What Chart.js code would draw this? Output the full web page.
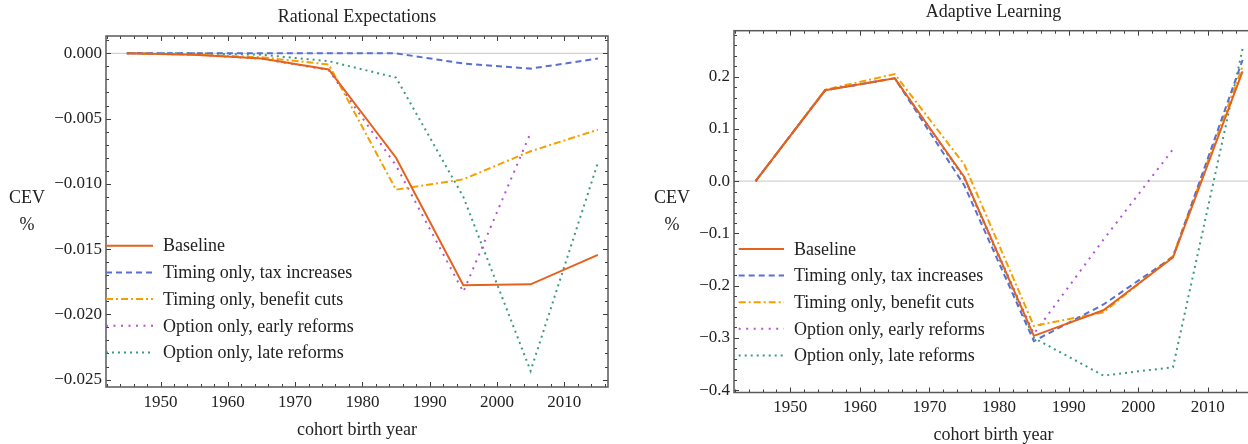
<!DOCTYPE html>
<html>
<head>
<meta charset="utf-8">
<script src="https://cdn.jsdelivr.net/npm/chart.js@4.4.0/dist/chart.umd.min.js"></script>
<style>
  html, body { margin: 0; padding: 0; background: #fff; overflow: hidden; width: 1248px; height: 444px; }
  .panel { position: absolute; top: 0; }
  #left { left: 0; }
  #right { left: 620px; }
</style>
</head>
<body>
<div class="panel" id="left"><canvas id="reChart" width="620" height="444"></canvas></div>
<div class="panel" id="right"><canvas id="alChart" width="640" height="446"></canvas></div>
<script>
// ── DATI ─────────────────────────────────────
const cohorts = [1945, 1955, 1965, 1975, 1985, 1995, 2005, 2015];
const seriesNames = [
  'Baseline',
  'Timing only, tax increases',
  'Timing only, benefit cuts',
  'Option only, early reforms',
  'Option only, late reforms'
];

// Rational Expectations (CEV, %)
const reBaseline    = [0, -0.0001, -0.0004, -0.00123, -0.0080, -0.01777, -0.0177, -0.01545];
const reTaxTiming   = [0, 0, 0, 0, 0, -0.00078, -0.00117, -0.0004];
const reBenTiming   = [0, -0.0001, -0.0003, -0.00085, -0.01045, -0.00965, -0.0075, -0.00585];
const reEarlyOption = [0, -0.0001, -0.0004, -0.00128, -0.0086, -0.01828, -0.00608];
const reLateOption  = [0, 0, -0.0001, -0.0006, -0.00186, -0.0110, -0.02434, -0.00838];

// Adaptive Learning (CEV, %)
const alBaseline    = [0, 0.174, 0.197, 0.008, -0.296, -0.247, -0.146, 0.210];
const alTaxTiming   = [0, 0.174, 0.197, -0.008, -0.306, -0.236, -0.145, 0.232];
const alBenTiming   = [0, 0.175, 0.205, 0.032, -0.277, -0.251, -0.143, 0.220];
const alEarlyOption = [0, 0.174, 0.197, 0.006, -0.292, -0.112, 0.061];
const alLateOption  = [0, 0.174, 0.197, 0.006, -0.300, -0.372, -0.356, 0.253];

// Assi
const xRange = [1941.9, 2016.5];
const xTicks = [1950, 1960, 1970, 1980, 1990, 2000, 2010];
const xTickLabels = ['1950', '1960', '1970', '1980', '1990', '2000', '2010'];

const reYRange = [-0.02557, 0.00133];
const reYTicks = [0, -0.005, -0.010, -0.015, -0.020, -0.025];
const reYTickLabels = ['0.000', '\u22120.005', '\u22120.010', '\u22120.015', '\u22120.020', '\u22120.025'];

const alYRange = [-0.4044, 0.288];
const alYTicks = [0.2, 0.1, 0, -0.1, -0.2, -0.3, -0.4];
const alYTickLabels = ['0.2', '0.1', '0.0', '\u22120.1', '\u22120.2', '\u22120.3', '\u22120.4'];

// Stili linee
const LINE_STYLES = [
  { color: '#e5621c', dash: [] },
  { color: '#5a6fd2', dash: [6, 4] },
  { color: '#f5a000', dash: [7, 3, 2, 3] },
  { color: '#b452d4', dash: [2, 5.5] },
  { color: '#3c9a7e', dash: [2, 4] }
];

const SERIF = '"Liberation Serif", "Times New Roman", serif';
const TEXT = '#222';

// ── UTILITY ──────────────────────────────────

function minorValues(from, to, step) {
  const out = [];
  for (let v = from; v <= to + step / 2; v += step) out.push(+v.toFixed(6));
  return out;
}

function buildDatasets(values) {
  return values.map((vals, i) => ({
    label: seriesNames[i],
    data: vals.map((v, k) => ({ x: cohorts[k], y: v })),
    borderColor: LINE_STYLES[i].color,
    borderDash: LINE_STYLES[i].dash,
    borderWidth: 2,
    borderCapStyle: 'butt',
    pointRadius: 0,
    tension: 0,
    fill: false
  }));
}

// ── PLUGIN ───────────────────────────────────

// linea dello zero + cornice con tacche sui quattro lati
const frameTicks = {
  id: 'frameTicks',
  beforeDatasetsDraw(chart) {
    const { ctx, chartArea: a, scales: { y } } = chart;
    const y0 = y.getPixelForValue(0);
    ctx.save();
    ctx.strokeStyle = '#d2d2d2';
    ctx.lineWidth = 1.3;
    ctx.beginPath();
    ctx.moveTo(a.left, y0);
    ctx.lineTo(a.right, y0);
    ctx.stroke();
    ctx.restore();
  },
  afterDatasetsDraw(chart, args, opts) {
    const { ctx, chartArea: a, scales: { x, y } } = chart;
    ctx.save();
    ctx.strokeStyle = '#3c3c3c';
    ctx.lineWidth = 1;
    ctx.beginPath();
    const xt = (v, len) => {
      const px = Math.round(x.getPixelForValue(v)) + 0.5;
      ctx.moveTo(px, a.bottom); ctx.lineTo(px, a.bottom - len);
      ctx.moveTo(px, a.top); ctx.lineTo(px, a.top + len);
    };
    const yt = (v, len) => {
      const py = Math.round(y.getPixelForValue(v)) + 0.5;
      ctx.moveTo(a.left, py); ctx.lineTo(a.left + len, py);
      ctx.moveTo(a.right, py); ctx.lineTo(a.right - len, py);
    };
    opts.xMinor.forEach(v => xt(v, 3));
    xTicks.forEach(v => xt(v, 5));
    opts.yMinor.forEach(v => yt(v, 3));
    opts.yMajor.forEach(v => yt(v, 5));
    ctx.stroke();
    ctx.strokeStyle = '#5a5a5a';
    ctx.lineWidth = 1.5;
    ctx.strokeRect(a.left, a.top, a.right - a.left, a.bottom - a.top);
    ctx.restore();
  }
};

// legenda dentro l'area del grafico
const insetLegend = {
  id: 'insetLegend',
  afterDraw(chart, args, opts) {
    const { ctx, chartArea: a } = chart;
    ctx.save();
    ctx.font = '18px ' + SERIF;
    ctx.textBaseline = 'middle';
    ctx.textAlign = 'left';
    chart.data.datasets.forEach((ds, i) => {
      const yy = a.top + opts.top + i * opts.rowGap;
      ctx.strokeStyle = ds.borderColor;
      ctx.lineWidth = ds.borderWidth;
      ctx.setLineDash(ds.borderDash);
      ctx.beginPath();
      ctx.moveTo(a.left + opts.x0, yy);
      ctx.lineTo(a.left + opts.x1, yy);
      ctx.stroke();
      ctx.setLineDash([]);
      ctx.fillStyle = TEXT;
      ctx.fillText(ds.label, a.left + opts.textX, yy + 1);
    });
    ctx.restore();
  }
};

// etichetta "CEV / %" orizzontale a sinistra
const sideLabel = {
  id: 'sideLabel',
  afterDraw(chart, args, opts) {
    const { ctx, chartArea: a } = chart;
    const mid = (a.top + a.bottom) / 2;
    ctx.save();
    ctx.font = '18px ' + SERIF;
    ctx.fillStyle = TEXT;
    ctx.textAlign = 'center';
    ctx.textBaseline = 'middle';
    ctx.fillText('CEV', opts.x, mid - 13);
    ctx.fillText('%', opts.x, mid + 14);
    ctx.restore();
  }
};

// ── GRAFICI ──────────────────────────────────

function makeChart(canvasId, cfg) {
  return new Chart(document.getElementById(canvasId), {
    type: 'line',
    data: { datasets: buildDatasets(cfg.values) },
    plugins: [frameTicks, insetLegend, sideLabel],
    options: {
      responsive: false,
      animation: false,
      devicePixelRatio: 1,
      layout: { padding: { left: 0, right: cfg.padRight, top: 0, bottom: 0 } },
      plugins: {
        legend: { display: false },
        tooltip: { enabled: false },
        title: {
          display: true,
          text: cfg.title,
          fullSize: false,
          color: TEXT,
          font: { family: SERIF, size: 18, weight: 'normal' },
          padding: cfg.titlePad
        },
        frameTicks: {
          xMinor: minorValues(1942, 2016, 2),
          yMinor: minorValues(cfg.yMinorFrom, cfg.yMinorTo, cfg.yMinorStep),
          yMajor: cfg.yTicks
        },
        insetLegend: cfg.legend,
        sideLabel: { x: cfg.sideX }
      },
      scales: {
        x: {
          type: 'linear',
          min: xRange[0],
          max: xRange[1],
          grid: { display: false, drawTicks: false },
          border: { display: false },
          afterBuildTicks: s => { s.ticks = xTicks.map(v => ({ value: v })); },
          afterFit: s => { s.height = cfg.xHeight; },
          ticks: {
            color: TEXT,
            padding: 5,
            maxRotation: 0,
            autoSkip: false,
            font: { family: SERIF, size: 17 },
            callback: (v, i) => xTickLabels[i]
          },
          title: {
            display: true,
            text: 'cohort birth year',
            color: TEXT,
            font: { family: SERIF, size: 18 },
            padding: { top: 0, bottom: cfg.xTitleBottom }
          }
        },
        y: {
          type: 'linear',
          min: cfg.yRange[0],
          max: cfg.yRange[1],
          grid: { display: false, drawTicks: false },
          border: { display: false },
          afterBuildTicks: s => { s.ticks = cfg.yTicks.map(v => ({ value: v })); },
          afterFit: s => { s.width = cfg.yWidth; },
          ticks: {
            color: TEXT,
            padding: 4,
            autoSkip: false,
            font: { family: SERIF, size: 17 },
            callback: (v, i) => cfg.yTickLabels[i]
          }
        }
      }
    }
  });
}

makeChart('reChart', {
  title: 'Rational Expectations',
  values: [reBaseline, reTaxTiming, reBenTiming, reEarlyOption, reLateOption],
  yRange: reYRange,
  yTicks: reYTicks,
  yTickLabels: reYTickLabels,
  yMinorFrom: -0.025, yMinorTo: 0.001, yMinorStep: 0.001,
  yWidth: 106,
  padRight: 12,
  titlePad: { top: 6, bottom: 8.4 },
  xHeight: 57,
  xTitleBottom: 3,
  sideX: 27,
  legend: { top: 209.7, rowGap: 26.7, x0: 0, x1: 47, textX: 57 }
});

makeChart('alChart', {
  title: 'Adaptive Learning',
  values: [alBaseline, alTaxTiming, alBenTiming, alEarlyOption, alLateOption],
  yRange: alYRange,
  yTicks: alYTicks,
  yTickLabels: alYTickLabels,
  yMinorFrom: -0.4, yMinorTo: 0.28, yMinorStep: 0.02,
  yWidth: 114,
  padRight: 7,
  titlePad: { top: 1.2, bottom: 7.9 },
  xHeight: 53.5,
  xTitleBottom: 0,
  sideX: 52,
  legend: { top: 218.3, rowGap: 26.6, x0: 4.7, x1: 50, textX: 60 }
});
</script>
</body>
</html>
